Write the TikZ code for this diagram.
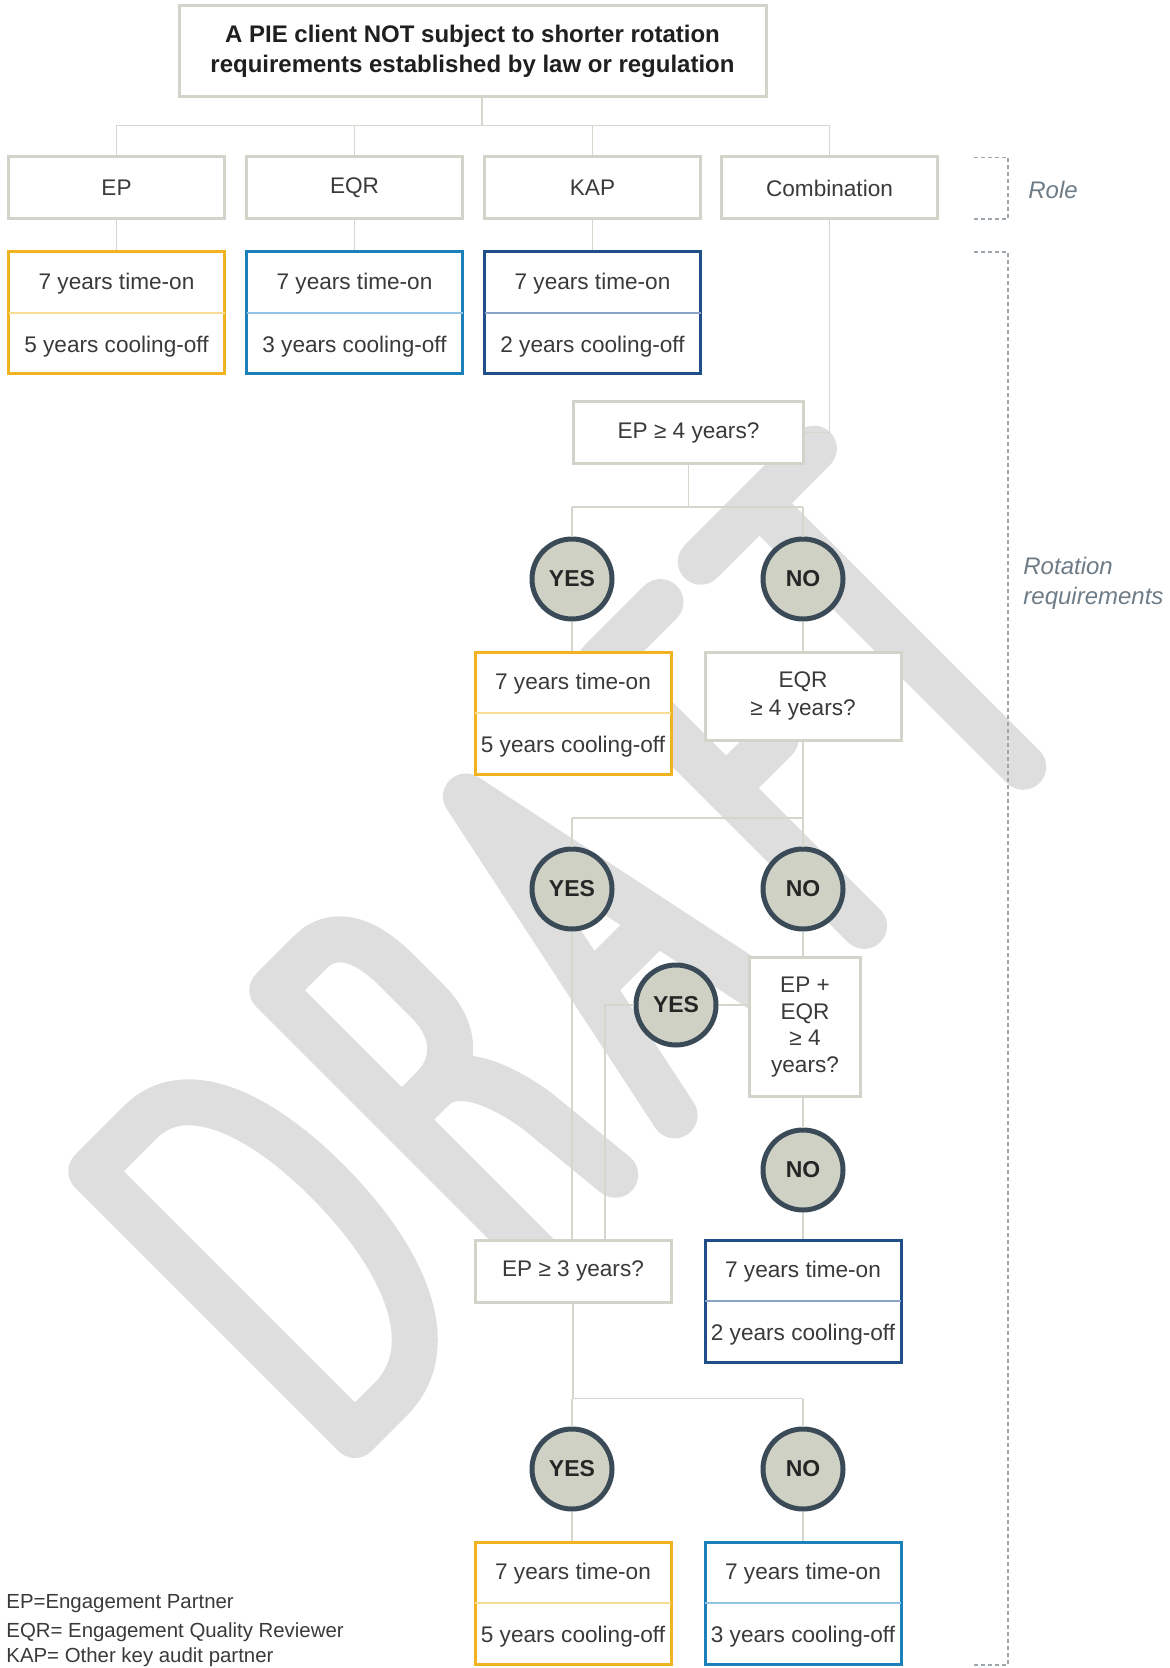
\documentclass[tikz,border=0pt]{standalone}
\usepackage{fontspec}
\setmainfont{Liberation Sans}
\usetikzlibrary{calc}

\definecolor{wmgray}{HTML}{DEDEDE}
\definecolor{framegray}{HTML}{D3D4C9}
\definecolor{linegray}{HTML}{D5D6CC}
\definecolor{ochre}{HTML}{F2B320}
\definecolor{ochrelt}{HTML}{F9DC93}
\definecolor{midblue}{HTML}{1C80BA}
\definecolor{midbluelt}{HTML}{94C6E4}
\definecolor{navy}{HTML}{1F4E89}
\definecolor{navylt}{HTML}{8AA3C6}
\definecolor{discfill}{HTML}{CFD1C4}
\definecolor{discrim}{HTML}{3A4B57}
\definecolor{inkgray}{HTML}{3A3A3A}
\definecolor{notegray}{HTML}{6E7C87}
\definecolor{dashgray}{HTML}{9EA6AD}

\tikzset{
  box/.style={draw=framegray, line width=1.5pt, fill=white, text=inkgray,
    font=\fontsize{11.3}{13.5}\selectfont, inner sep=0pt, align=center},
  rolebox/.style={box, minimum width=108pt, minimum height=31pt},
  disc/.style={circle, draw=discrim, fill=discfill, line width=2.5pt,
    minimum size=40pt, inner sep=0pt, text=black!85,
    font=\bfseries\fontsize{11.5}{13}\selectfont},
  conn/.style={draw=linegray, line width=0.8pt},
  bracket/.style={draw=dashgray, line width=0.7pt, dash pattern=on 2pt off 1.5pt},
  celltext/.style={text=inkgray, font=\fontsize{11.3}{13.5}\selectfont, inner sep=0pt, anchor=base},
  letter/.style={draw=wmgray, line width=23pt, line cap=round, line join=round},
  legend/.style={anchor=west, inner sep=0pt, text=inkgray, font=\fontsize{10.2}{13}\selectfont},
}

% two-cell tenure box: name, centre, width, frame colour, divider colour, upper text, lower text
\newcommand{\tenure}[7]{%
  \node[draw=#4, line width=1.5pt, fill=white, inner sep=0pt,
        minimum width=#3, minimum height=61pt] (#1) at #2 {};
  \draw[#5, line width=0.8pt, shorten <=0.75pt, shorten >=0.75pt] (#1.west) -- (#1.east);
  \node[celltext] (#1-on) at ($($(#1.center)!0.5!(#1.north)$)+(0,8)$) {#6};
  \node[celltext] (#1-off) at ($($(#1.center)!0.5!(#1.south)$)+(0,8)$) {#7};
}

\begin{document}
\begin{tikzpicture}[x=0.5pt, y=-0.5pt]
\useasboundingbox (0,0) rectangle (1170,1668);

% ---- DRAFT watermark, letters stroked along a 45 degree baseline ----
\begin{scope}[shift={(355,1435)}, x={(0.35355pt,0.35355pt)}, y={(-0.35355pt,0.35355pt)}]
  % D
  \draw[letter] (0,0) -- (0,373) -- (70,373)
    .. controls (130,373) and (160,300) .. (160,200)
    .. controls (160,90) and (125,0) .. (50,0) -- cycle;
  % R
  \draw[letter] (256,0) -- (256,373) -- (310,373)
    .. controls (345,373) and (358,340) .. (358,300) -- (358,255)
    .. controls (358,215) and (335,190) .. (300,190) -- (256,190);
  \draw[letter] (300,190) .. controls (335,190) and (352,140) .. (358,100) -- (368,0);
  % A
  \draw[letter] (452,0) -- (530,373) -- (608,0);
  \draw[letter] (484,150) -- (576,150);
  % F
  \draw[letter] (805,373) -- (720,373) -- (720,0);
  \draw[letter] (720,195) -- (790,195);
  % T
  \draw[letter] (862,373) -- (1022,373);
  \draw[letter] (945,373) -- (945,0);
\end{scope}

% ---- heading ----
\node[box, text=black!88, font=\bfseries\fontsize{12}{14.9}\selectfont,
      minimum width=293.5pt, minimum height=45.5pt] (client) at (472.5,51.5)
  {A PIE client NOT subject to shorter rotation\\requirements established by law or regulation};

% ---- roles ----
\node[rolebox] (ep)   at (116.5,188) {EP};
\node[rolebox] (eqr)  at (354.5,188) {EQR};
\node[rolebox] (kap)  at (592.5,188) {KAP};
\node[rolebox] (comb) at (829.5,188) {Combination};

% ---- rotation rules per role ----
\tenure{tep}{(116.5,313)}{108pt}{ochre}{ochrelt}{7 years time-on}{5 years cooling-off}
\tenure{teqr}{(354.5,313)}{108pt}{midblue}{midbluelt}{7 years time-on}{3 years cooling-off}
\tenure{tkap}{(592.5,313)}{108pt}{navy}{navylt}{7 years time-on}{2 years cooling-off}

% ---- combination decision tree ----
\node[box, minimum width=115pt, minimum height=30.5pt] (q1) at (688.5,432.5) {EP ≥ 4 years?};
\node[disc] (y1) at (572,579) {YES};
\node[disc] (n1) at (803,579) {NO};
\tenure{tmid}{(573,713)}{98pt}{ochre}{ochrelt}{7 years time-on}{5 years cooling-off}
\node[box, minimum width=98pt, minimum height=44pt, font=\fontsize{11.3}{14.4}\selectfont]
  (q2) at (803,696) {EQR\\≥ 4 years?};
\node[disc] (y2) at (572,889) {YES};
\node[disc] (n2) at (803,889) {NO};
\node[box, minimum width=55.75pt, minimum height=69.5pt, font=\fontsize{11.3}{13.3}\selectfont]
  (q3) at (805,1027) {EP +\\EQR\\≥ 4\\years?};
\node[disc] (y3) at (676,1005) {YES};
\node[disc] (n3) at (803,1170) {NO};
\node[box, minimum width=98pt, minimum height=31pt] (q4) at (573,1271) {EP ≥ 3 years?};
\tenure{tnavy}{(803,1301)}{98pt}{navy}{navylt}{7 years time-on}{2 years cooling-off}
\node[disc] (y4) at (572,1469) {YES};
\node[disc] (n4) at (803,1469) {NO};
\tenure{tlow}{(573,1603)}{98pt}{ochre}{ochrelt}{7 years time-on}{5 years cooling-off}
\tenure{tblue}{(803,1603)}{98pt}{midblue}{midbluelt}{7 years time-on}{3 years cooling-off}

% ---- connectors ----
\coordinate (bus0) at (482,125.5);
\draw[conn] (bus0 |- client.south) -- (bus0);
\draw[conn] (ep.north |- bus0) -- (comb.north |- bus0);
\foreach \r in {ep,eqr,kap,comb} \draw[conn] (\r.north |- bus0) -- (\r.north);
\draw[conn] (ep.south) -- (tep.north);
\draw[conn] (eqr.south) -- (teqr.north);
\draw[conn] (kap.south) -- (tkap.north);
\draw[conn] (comb.south) |- (q1.east);

\coordinate (bus1) at (688.5,507);
\draw[conn] (q1.south) -- (bus1);
\draw[conn] (y1 |- bus1) -- (n1 |- bus1);
\draw[conn] (y1 |- bus1) -- (y1.north);
\draw[conn] (n1 |- bus1) -- (n1.north);
\draw[conn] (y1.south) -- (y1.south |- tmid.north);
\draw[conn] (n1.south) -- (n1.south |- q2.north);

\coordinate (bus2) at (803,818);
\draw[conn] (q2.south) -- (bus2);
\draw[conn] (y2 |- bus2) -- (n2 |- bus2);
\draw[conn] (y2 |- bus2) -- (y2.north);
\draw[conn] (n2 |- bus2) -- (n2.north);
\draw[conn] (n2.south) -- (n2.south |- q3.north);
\draw[conn] (y3.east) -- (y3.east -| q3.west);
\draw[conn] (y3.west) -| ([xshift=16pt]q4.north);
\draw[conn] (n3.north |- q3.south) -- (n3.north);
\draw[conn] (y2.south) -- (y2.south |- q4.north);
\draw[conn] (n3.south) -- (n3.south |- tnavy.north);

\coordinate (bus3) at (573,1398.6);
\draw[conn] (q4.south) -- (bus3);
\draw[conn] (y4 |- bus3) -- (n4 |- bus3);
\draw[conn] (y4 |- bus3) -- (y4.north);
\draw[conn] (n4 |- bus3) -- (n4.north);
\draw[conn] (y4.south) -- (y4.south |- tlow.north);
\draw[conn] (n4.south) -- (n4.south |- tblue.north);

% ---- side brackets ----
\draw[bracket] (974,157.4) -- (1008,157.4) -- (1008,219) -- (974,219);
\draw[bracket] (974,252) -- (1008,252) -- (1008,1665) -- (974,1665);
\node[anchor=west, inner sep=0pt, text=notegray, font=\itshape\fontsize{12}{15}\selectfont]
  (rolelbl) at (1028,190) {Role};
\node[anchor=west, inner sep=0pt, align=left, text=notegray, font=\itshape\fontsize{12}{15}\selectfont]
  (rotlbl) at (1023,583) {Rotation\\requirements};

% ---- legend ----
\node[legend] (lg1) at (6,1604) {EP=Engagement Partner};
\node[legend] (lg2) at (6,1632) {EQR= Engagement Quality Reviewer};
\node[legend] (lg3) at (6,1657) {KAP= Other key audit partner};
\end{tikzpicture}
\end{document}
